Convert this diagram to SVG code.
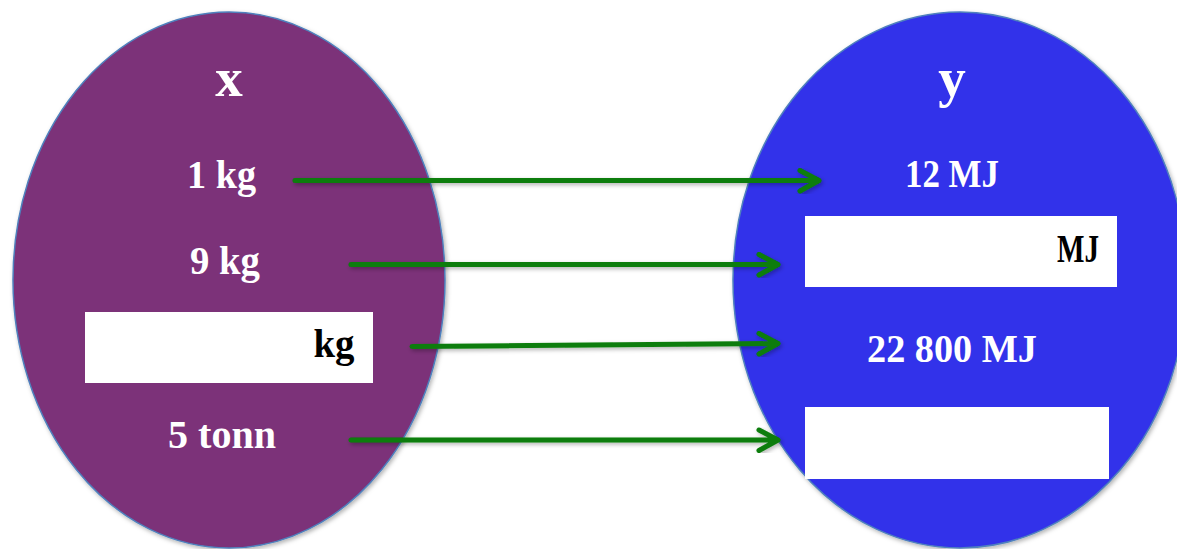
<svg xmlns="http://www.w3.org/2000/svg" width="1177" height="549" viewBox="0 0 1177 549">
<defs>
<filter id="sh" x="-10%" y="-10%" width="120%" height="120%">
<feDropShadow dx="1.5" dy="2" stdDeviation="2" flood-color="#000" flood-opacity="0.3"/>
</filter>
<style>
.set{stroke:#4F81BD;stroke-width:1.5;filter:url(#sh)}
.lbl{font-family:"Liberation Serif","Times New Roman",serif;font-weight:bold;font-size:39px;fill:#fff;text-anchor:middle}
.blk{fill:#000}
.hd{font-size:55px}
.box{fill:#fff}
.arr{fill:none;stroke:#0A7D0A;stroke-width:5;stroke-linecap:round;stroke-linejoin:round;filter:url(#sh)}
</style>
</defs>
<rect width="1177" height="549" fill="#fff"/>
<g id="set-x">
<ellipse class="set" cx="229" cy="280" rx="216" ry="268" fill="#7B3179"/>
<text class="lbl hd" x="229" y="96">x</text>
<text class="lbl" x="221.5" y="188" textLength="69" lengthAdjust="spacingAndGlyphs">1 kg</text>
<text class="lbl" x="225" y="274" textLength="70" lengthAdjust="spacingAndGlyphs">9 kg</text>
<rect class="box" x="85" y="312" width="288" height="71"/>
<text class="lbl blk" x="334" y="357" textLength="41" lengthAdjust="spacingAndGlyphs">kg</text>
<text class="lbl" x="222" y="448" textLength="108" lengthAdjust="spacingAndGlyphs">5 tonn</text>
</g>
<g id="set-y">
<ellipse class="set" cx="960" cy="280" rx="227" ry="268" fill="#3333EA"/>
<text class="lbl hd" x="952" y="96">y</text>
<text class="lbl" x="952" y="187" textLength="94" lengthAdjust="spacingAndGlyphs">12 MJ</text>
<rect class="box" x="805" y="216" width="312" height="71"/>
<text class="lbl blk" x="1078" y="262" textLength="42" lengthAdjust="spacingAndGlyphs">MJ</text>
<text class="lbl" x="952" y="362" textLength="170" lengthAdjust="spacingAndGlyphs">22 800 MJ</text>
<rect class="box" x="805" y="407" width="304" height="72"/>
</g>
<g id="connectors">
<path class="arr" d="M295 180.5 H819 M800 170.5 L819 180.5 L800 191"/>
<path class="arr" d="M351 264.5 H778 M759 254.5 L778 264.5 L759 275"/>
<path class="arr" d="M412 346.5 L778 343.5 M759 333.5 L778 343.5 L759 354"/>
<path class="arr" d="M351 440 H778 M759 430 L778 440 L759 450.5"/>
</g>
</svg>
